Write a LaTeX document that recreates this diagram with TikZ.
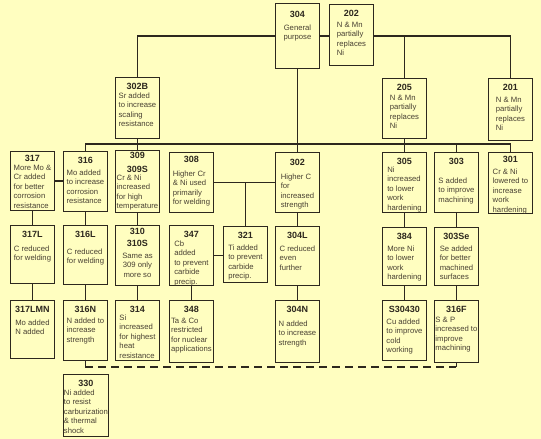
\documentclass[tikz,border=0pt]{standalone}
\usepackage{fontspec}
\setmainfont{Liberation Sans}
\definecolor{paper}{RGB}{255,254,192}
\definecolor{ink}{RGB}{45,40,30}
\definecolor{txt}{RGB}{72,64,50}
\newcommand{\descfont}{\fontsize{7.7}{9.5}\selectfont}
\newcommand{\ttlfont}{\fontsize{9}{11}\selectfont\bfseries}
% text lines, hung from the first baseline
\newcommand{\desc}[1]{\begin{tabular}[t]{@{}l@{}}#1\end{tabular}}
\newcommand{\descc}[1]{\begin{tabular}[t]{@{}c@{}}#1\end{tabular}}
\tikzset{
  alloy/.style={draw=ink, line width=0.9pt, anchor=north west, minimum width=44pt,
    inner xsep=0.5pt, inner ysep=1pt, font=\descfont, text=txt,
    text height=19pt, text depth=38pt},
  ttl/.style={anchor=north, font=\ttlfont, text=ink, inner sep=1pt, yshift=-5pt},
  link/.style={draw=ink, line width=1.3pt},
}
\begin{document}
\begin{tikzpicture}[x=1pt, y=-1pt]
    % Paper
    \fill[paper] (0,0) rectangle (541,439);
    \useasboundingbox (0,0) rectangle (541,439);

    % Top row
    \node[alloy, text height=26pt, text depth=37pt, label={[ttl, yshift=-2pt]north:304}] (n304) at (275,3) {\descc{General\\purpose}};
    \node[alloy, text height=22pt, text depth=37pt, label={[ttl]north:202}] (n202) at (329,4) {\desc{N \& Mn\\partially\\replaces\\Ni}};

    % Second row
    \node[alloy, text height=20pt, text depth=39pt, label={[ttl]north:302B}] (n302B) at (115,77) {\desc{Sr added\\to increase\\scaling\\resistance}};
    \node[alloy, text height=21pt, text depth=37pt, label={[ttl]north:205}] (n205) at (382,78) {\desc{N \& Mn\\partially\\replaces\\Ni}};
    \node[alloy, text height=23pt, text depth=37pt, label={[ttl]north:201}] (n201) at (488,78) {\desc{N \& Mn\\partially\\replaces\\Ni}};

    % Third row
    \node[alloy, text height=18pt, text depth=39pt, label={[ttl, yshift=2pt]north:317}] (n317) at (10,151) {\desc{More Mo \&\\Cr added\\for better\\corrosion\\resistance}};
    \node[alloy, text height=23pt, text depth=35pt, label={[ttl]north:316}] (n316) at (63,151) {\desc{Mo added\\to increase\\corrosion\\resistance}};
    \node[alloy, text height=29pt, text depth=31pt, label={[ttl, align=center, yshift=4pt]north:{309\\[3pt]309S}}] (n309) at (115,150) {\desc{Cr \& Ni\\increased\\for high\\temperature}};
    \node[alloy, text height=23pt, text depth=35pt, label={[ttl, yshift=2pt]north:308}] (n308) at (169,152) {\desc{Higher Cr\\\& Ni used\\primarily\\for welding}};
    \node[alloy, text height=26pt, text depth=32pt, label={[ttl, yshift=-1pt]north:302}] (n302) at (275,152) {\desc{Higher C\\for\\increased\\strength}};
    \node[alloy, text height=19pt, text depth=39pt, label={[ttl]north:305}] (n305) at (382,152) {\desc{Ni\\increased\\to lower\\work\\hardening}};
    \node[alloy, text height=30pt, text depth=28pt, label={[ttl]north:303}] (n303) at (434,152) {\desc{S added\\to improve\\machining}};
    \node[alloy, text height=21pt, text depth=38pt, label={[ttl, yshift=2pt]north:301}] (n301) at (488,152) {\desc{Cr \& Ni\\lowered to\\increase\\work\\hardening}};

    % Fourth row
    \node[alloy, text height=25pt, text depth=31pt, label={[ttl]north:317L}] (n317L) at (10,225) {\desc{C reduced\\for welding}};
    \node[alloy, text height=28pt, text depth=29pt, label={[ttl]north:316L}] (n316L) at (63,225) {\desc{C reduced\\for welding}};
    \node[alloy, text height=32pt, text depth=26pt, label={[ttl, align=center, yshift=3pt]north:{310\\[1pt]310S}}] (n310) at (115,225) {\descc{Same as\\309 only\\more so}};
    \node[alloy, text height=20pt, text depth=38pt, label={[ttl]north:347}] (n347) at (169,225) {\desc{Cb\\added\\to prevent\\carbide\\precip.}};
    \node[alloy, text height=23pt, text depth=31pt, label={[ttl]north:321}] (n321) at (223,226) {\desc{Ti added\\to prevent\\carbide\\precip.}};
    \node[alloy, text height=24pt, text depth=33pt, label={[ttl]north:304L}] (n304L) at (275,226) {\desc{C reduced\\even\\further}};
    \node[alloy, text height=23pt, text depth=33pt, label={[ttl]north:384}] (n384) at (382,227) {\desc{More Ni\\to lower\\work\\hardening}};
    \node[alloy, text height=23pt, text depth=33pt, label={[ttl]north:303Se}] (n303Se) at (434,227) {\desc{Se added\\for better\\machined\\surfaces}};

    % Fifth row
    \node[alloy, text height=24pt, text depth=32pt, label={[ttl]north:317LMN}] (n317LMN) at (10,300) {\desc{Mo added\\N added}};
    \node[alloy, text height=22pt, text depth=36pt, label={[ttl]north:316N}] (n316N) at (63,300) {\desc{N added to\\increase\\strength}};
    \node[alloy, text height=19pt, text depth=39pt, label={[ttl]north:314}] (n314) at (115,300) {\desc{Si\\increased\\for highest\\heat\\resistance}};
    \node[alloy, text height=22pt, text depth=38pt, label={[ttl]north:348}] (n348) at (169,300) {\desc{Ta \& Co\\restricted\\for nuclear\\applications}};
    \node[alloy, text height=25pt, text depth=35pt, label={[ttl]north:304N}] (n304N) at (275,300) {\desc{N added\\to increase\\strength}};
    \node[alloy, text height=23pt, text depth=35pt, label={[ttl]north:S30430}] (nS30430) at (382,300) {\desc{Cu added\\to improve\\cold\\working}};
    \node[alloy, text height=21pt, text depth=39pt, label={[ttl]north:316F}] (n316F) at (434,300) {\desc{S \& P\\increased to\\improve\\machining}};

    % Bottom
    \node[alloy, text height=20pt, text depth=40pt, label={[ttl]north:330}] (n330) at (63,374) {\desc{Ni added\\to resist\\carburization\\\& thermal\\shock}};

    % Trunk
    \draw[link] (n302B.north) |- (n304.west);
    \draw[link] (n304.east) -- (n202.west |- n304.east);
    \draw[link] (n202.east |- n304.east) -| (n201.north);
    \draw[link] (n205.north) -- (n205.north |- n304.east);
    \draw[link] (n304.south) -- (n302.north);
    \draw[link] (n302B.south) -- (n309.north);
    \draw[link] (n205.south) -- (n305.north);

    % Bus over the third row
    \coordinate (bus) at (0,144);
    \draw[link] (n316.north) |- (n301.north |- bus) -- (n301.north);
    \draw[link] (n303.north) -- (n303.north |- bus);

    % Side links
    \draw[link] (n317.east) -- (n316.west |- n317.east);
    \draw[link] (n308.east) -- (n302.west |- n308.east);
    \draw[link] (n321.north) -- (n321.north |- n308.east);
    \draw[link] (n347.east) -- (n321.west |- n347.east);

    % Down the columns
    \draw[link] (n317.south) -- (n317L.north);
    \draw[link] (n316.south) -- (n316L.north);
    \draw[link] (n309.south) -- (n310.north);
    \draw[link] (n302.south) -- (n304L.north);
    \draw[link] (n305.south) -- (n384.north);
    \draw[link] (n303.south) -- (n303Se.north);
    \draw[link] (n317L.south) -- (n317LMN.north);
    \draw[link] (n316L.south) -- (n316N.north);
    \draw[link] (n310.south) -- (n314.north);
    \draw[link] (n347.south) -- (n348.north);
    \draw[link] (n304L.south) -- (n304N.north);
    \draw[link] (n384.south) -- (nS30430.north);
    \draw[link] (n303Se.south) -- (n316F.north);

    % Dashed link
    \coordinate (dashy) at (0,367);
    \draw[link] (n316N.south) -- (n316N.south |- dashy) coordinate (dl);
    \draw[link] (n316F.south) -- (n316F.south |- dashy) coordinate (dr);
    \draw[link, dash pattern=on 8pt off 5pt] (dl) -- (dr);

  \end{tikzpicture}
\end{document}
